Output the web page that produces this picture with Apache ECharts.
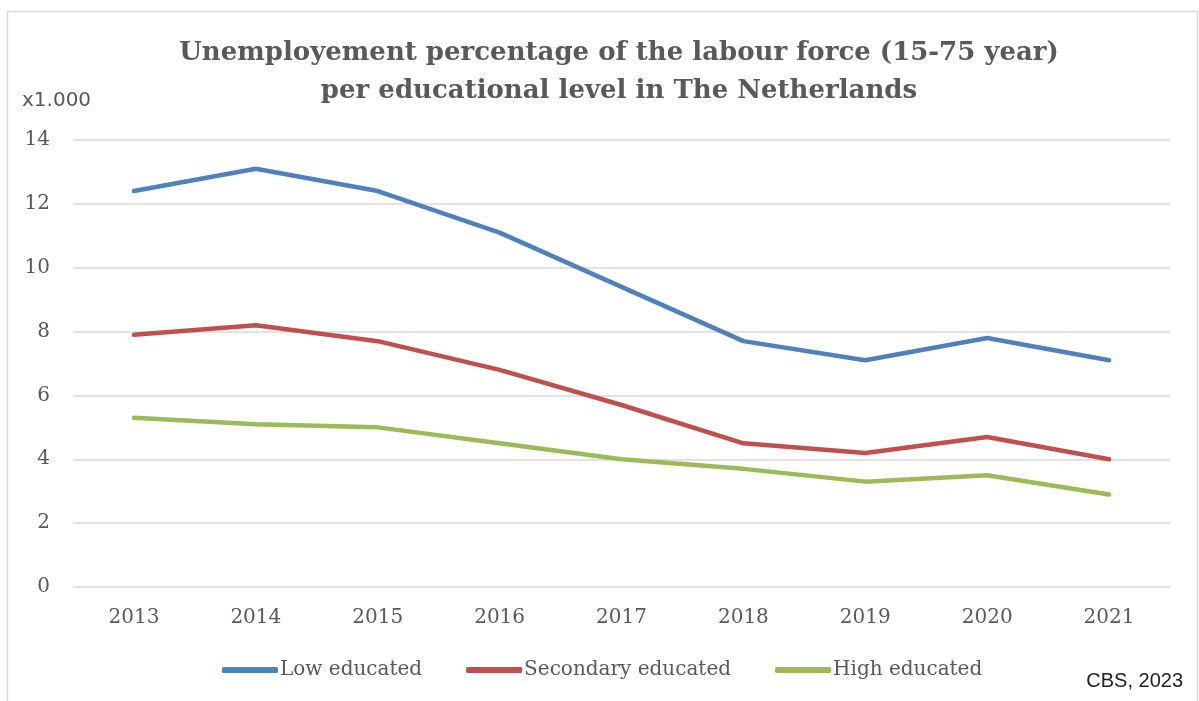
<!DOCTYPE html>
<html>
<head>
<meta charset="utf-8">
<script src="https://cdn.jsdelivr.net/npm/echarts@6/dist/echarts.min.js"></script>
<style>
  html, body { margin: 0; padding: 0; background: #fff; }
  #chart { width: 1199px; height: 701px; }
</style>
</head>
<body>
<div id="chart"></div>
<script>
// Unemployed labour force (x1.000) by educational level, 2013-2021
const years = ['2013', '2014', '2015', '2016', '2017', '2018', '2019', '2020', '2021'];
const lowEducated = [12.4, 13.1, 12.4, 11.1, 9.4, 7.7, 7.1, 7.8, 7.1];
const secondaryEducated = [7.9, 8.2, 7.7, 6.8, 5.7, 4.5, 4.2, 4.7, 4.0];
const highEducated = [5.3, 5.1, 5.0, 4.5, 4.0, 3.7, 3.3, 3.5, 2.9];
const yTicks = [0, 2, 4, 6, 8, 10, 12, 14];

const chartTitle = 'Unemployement percentage of the labour force (15-75 year)\nper educational level in The Netherlands';
const textGray = '#595959';
const serif = '"DejaVu Serif", serif';

const chart = echarts.init(document.getElementById('chart'), null, { renderer: 'canvas' });

function lineSeries(name, data, color) {
  return {
    name: name,
    type: 'line',
    data: data,
    showSymbol: false,
    symbol: 'none',
    lineStyle: { color: color, width: 4.5, cap: 'round', join: 'round' },
    itemStyle: { color: color },
    emphasis: { disabled: true }
  };
}

chart.setOption({
  animation: false,
  backgroundColor: '#ffffff',
  graphic: [
    {
      type: 'rect',
      shape: { x: 7.5, y: 11.5, width: 1190, height: 720 },
      style: { fill: 'none', stroke: '#D9D9D9', lineWidth: 1.5 },
      silent: true
    },
    {
      type: 'text',
      x: 619,
      y: 34,
      style: {
        text: chartTitle,
        align: 'center',
        verticalAlign: 'top',
        font: 'bold 26px "DejaVu Serif", serif',
        lineHeight: 38,
        fill: textGray
      }
    },
    {
      type: 'text',
      left: 22,
      top: 91,
      style: { text: 'x1.000', font: '20px "DejaVu Sans", sans-serif', fill: textGray }
    },
    {
      type: 'text',
      right: 16,
      top: 671,
      style: { text: 'CBS, 2023', font: '20px "Liberation Sans Narrow", "Liberation Sans", sans-serif', fill: '#222222' }
    }
  ],
  legend: {
    bottom: 16,
    left: 217,
    itemWidth: 56,
    itemHeight: 6,
    itemGap: 44,
    icon: 'roundRect',
    textStyle: { fontFamily: serif, fontSize: 20, color: textGray, padding: [0, 0, 0, -3] },
    data: ['Low educated', 'Secondary educated', 'High educated']
  },
  grid: { left: 73, right: 29, top: 140, bottom: 114, containLabel: false },
  xAxis: {
    type: 'category',
    data: years,
    boundaryGap: true,
    axisLine: { show: false },
    axisTick: { show: false },
    axisLabel: { color: textGray, fontFamily: serif, fontSize: 20, margin: 21 }
  },
  yAxis: {
    type: 'value',
    min: yTicks[0],
    max: yTicks[yTicks.length - 1],
    interval: 2,
    axisLine: { show: false },
    axisTick: { show: false },
    splitLine: { lineStyle: { color: '#D9D9D9', width: 1.5 } },
    axisLabel: { color: textGray, fontFamily: serif, fontSize: 20, margin: 23 }
  },
  series: [
    lineSeries('Low educated', lowEducated, '#4F81BD'),
    lineSeries('Secondary educated', secondaryEducated, '#C0504D'),
    lineSeries('High educated', highEducated, '#9BBB59')
  ]
});
</script>
</body>
</html>
